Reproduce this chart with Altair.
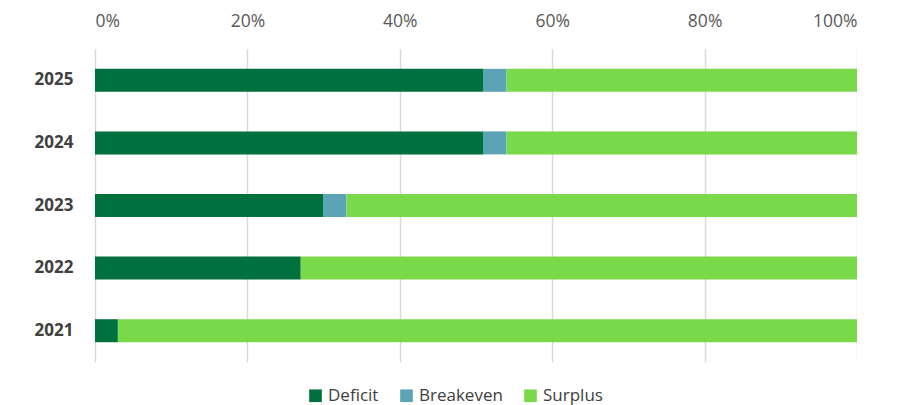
import altair as alt
import pandas as pd

years = ["2025", "2024", "2023", "2022", "2021"]
categories = ["Deficit", "Breakeven", "Surplus"]
deficit = [51, 51, 30, 27, 3]
breakeven = [3, 3, 3, 0, 0]
surplus = [46, 46, 67, 73, 97]
colors = ["#00703F", "#5BA3B5", "#7AD94B"]

rows = []
for i, y in enumerate(years):
    for j, (c, vals) in enumerate(zip(categories, [deficit, breakeven, surplus])):
        rows.append({"year": y, "category": c, "value": vals[i], "ord": j})
df = pd.DataFrame(rows)

font = "Open Sans"

chart = alt.Chart(df).mark_bar(size=23).encode(
    x=alt.X("value:Q", stack="normalize",
            scale=alt.Scale(domain=[0, 1], nice=False),
            axis=alt.Axis(orient="top", format=".0%", values=[0, 0.2, 0.4, 0.6, 0.8, 1.0],
                          title=None, domain=False, ticks=False, grid=True,
                          gridColor="#d9d9d9", gridWidth=1.5,
                          labelFont=font, labelFontSize=17.5, labelColor="#595959",
                          labelPadding=19)),
    y=alt.Y("year:N", sort=years,
            axis=alt.Axis(title=None, domain=False, ticks=False, grid=False,
                          labelFont=font, labelFontSize=17, labelFontWeight="bold",
                          labelColor="#404040", labelPadding=22)),
    color=alt.Color("category:N", sort=categories,
                    scale=alt.Scale(domain=categories, range=colors),
                    legend=alt.Legend(title=None, orient="none", direction="horizontal",
                                      legendX=212, legendY=338,
                                      symbolType="square", symbolSize=160,
                                      symbolStrokeWidth=0,
                                      labelFont=font, labelFontSize=17,
                                      labelColor="#404040", columnPadding=19,
                                      labelOffset=4)),
    order=alt.Order("ord:Q"),
).properties(
    width=762, height=313,
    autosize=alt.AutoSizeParams(type="none"),
    padding={"left": 87, "top": 41, "right": 0, "bottom": 50},
).configure_view(stroke=None)

chart.save("out.html", embed_options={"renderer": "svg", "actions": False})
